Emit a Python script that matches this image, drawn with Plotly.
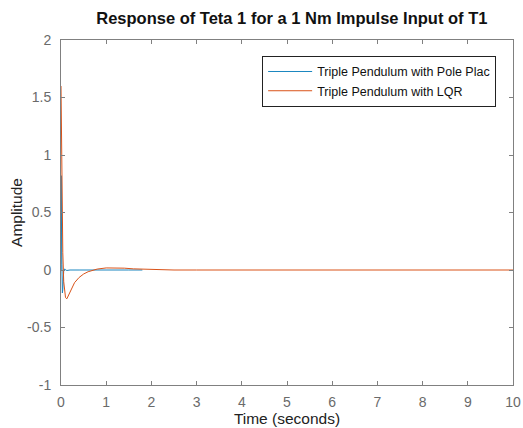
import plotly.graph_objects as go

title_text = "Response of Teta 1 for a 1 Nm Impulse Input of T1"
legend_names = ["Triple Pendulum with Pole Plac", "Triple Pendulum with LQR"]

t_pole = [0, 0.005, 0.012, 0.02, 0.03, 0.04, 0.05, 0.06, 0.08, 0.1, 0.13, 0.2, 0.4, 0.8, 1.2, 1.5, 1.8]
y_pole = [0, 0.82, 0.33, 0.05, -0.2, -0.17, -0.08, -0.01, 0.01, 0.0, -0.004, 0.0, 0.0, 0.002, 0.002, 0.0, 0.0]

t_lqr = [0, 0.02, 0.04, 0.06, 0.08, 0.1, 0.13, 0.17, 0.22, 0.3, 0.4, 0.5, 0.6, 0.7, 0.8, 1.0, 1.2, 1.4, 1.6, 2.0, 2.5, 3.0, 10.0]
y_lqr = [1.6, 0.7, 0.15, -0.1, -0.2, -0.24, -0.25, -0.22, -0.17, -0.11, -0.065, -0.035, -0.015, -0.002, 0.008, 0.018, 0.02, 0.016, 0.01, 0.003, 0.0, 0.0, 0.0]

x_ticks = list(range(0, 11))
y_ticks = [-1, -0.5, 0, 0.5, 1, 1.5, 2]
y_tick_labels = ["-1", "-0.5", "0", "0.5", "1", "1.5", "2"]

font_family = "Arial, Liberation Sans, sans-serif"

fig = go.Figure()
fig.add_trace(go.Scatter(x=t_pole, y=y_pole, mode="lines", name=legend_names[0],
                         line=dict(color="#1a86c0", width=1)))
fig.add_trace(go.Scatter(x=t_lqr, y=y_lqr, mode="lines", name=legend_names[1],
                         line=dict(color="#D95319", width=1)))

axis_common = dict(showline=True, linecolor="#808080", linewidth=1, mirror="ticks",
                   ticks="inside", ticklen=4, tickcolor="#808080", showgrid=False,
                   zeroline=False, automargin=False,
                   tickfont=dict(size=14, color="#6a6a6a", family=font_family))

fig.update_layout(
    width=523, height=428,
    paper_bgcolor="white", plot_bgcolor="white",
    margin=dict(l=61, r=10, t=40, b=43),
    font=dict(family=font_family, color="#222222"),
    title=dict(text="<b>" + title_text + "</b>", x=0.558, xanchor="center", y=0.958, yanchor="middle",
               font=dict(size=16.5, color="#111111", family=font_family)),
    xaxis=dict(range=[0, 10], tickvals=x_ticks, ticklabelstandoff=4,
               title=dict(text="Time (seconds)", font=dict(size=15.5, color="#222222"), standoff=0),
               **axis_common),
    yaxis=dict(range=[-1, 2], tickvals=y_ticks, ticktext=y_tick_labels, ticklabelstandoff=6,
               title=dict(text="Amplitude", font=dict(size=15.5, color="#222222"), standoff=0),
               **axis_common),
    legend=dict(x=0.445, y=0.954, xanchor="left", yanchor="top",
                bordercolor="#222222", borderwidth=1, bgcolor="white",
                font=dict(size=12.5, color="#111111", family=font_family),
                tracegroupgap=0, itemwidth=44),
    showlegend=True,
)

fig.write_html("out.html", config={"displayModeBar": False},
               post_script="document.body.style.margin='0';")
